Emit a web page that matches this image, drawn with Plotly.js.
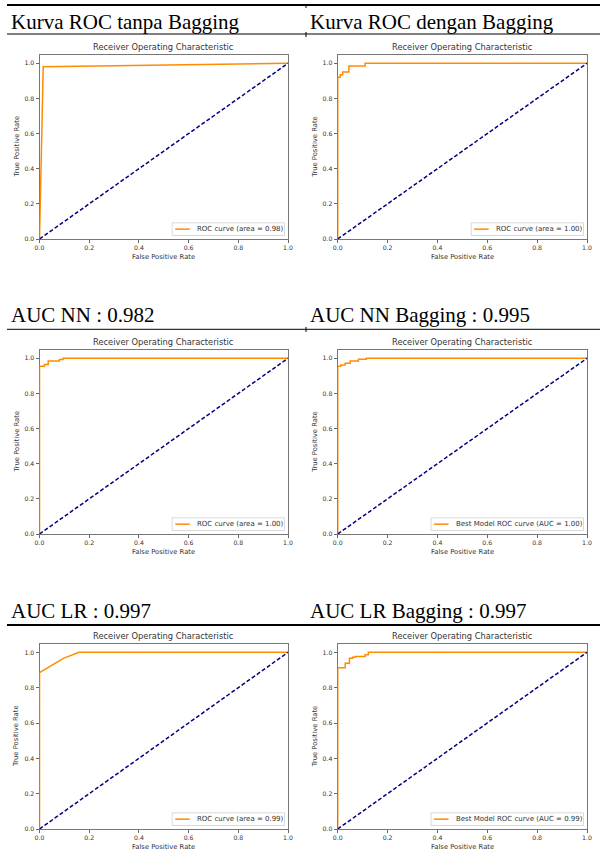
<!DOCTYPE html>
<html><head><meta charset="utf-8">
<script src="https://cdn.plot.ly/plotly-3.0.1.min.js"></script>
<style>html,body{margin:0;padding:0;background:#fff}#chart{width:600px;height:853px}</style>
</head><body><div id="chart"></div>
<script>
// ---------- data ----------
const headerTexts = ["Kurva ROC tanpa Bagging", "Kurva ROC dengan Bagging",
                     "AUC NN : 0.982", "AUC NN Bagging : 0.995",
                     "AUC LR : 0.997", "AUC LR Bagging : 0.997"];
const plotTitle = "Receiver Operating Characteristic";
const xTitle = "False Positive Rate";
const yTitle = "True Positive Rate";
const tickVals = [0, 0.2, 0.4, 0.6, 0.8, 1.0];
const tickText = ["0.0", "0.2", "0.4", "0.6", "0.8", "1.0"];
const diagX = [0, 1];
const diagY = [0, 1];

const fprNoBag = [0, 0.015, 1];
const tprNoBag = [0, 0.98, 1];
const fprBag = [0, 0, 0.01, 0.01, 0.02, 0.02, 0.045, 0.045, 0.11, 0.11, 1];
const tprBag = [0, 0.92, 0.92, 0.935, 0.935, 0.95, 0.95, 0.985, 0.985, 1, 1];
const fprNN = [0, 0, 0.02, 0.02, 0.035, 0.035, 0.08, 0.08, 0.095, 0.095, 1];
const tprNN = [0, 0.955, 0.955, 0.965, 0.965, 0.985, 0.985, 0.993, 0.993, 1, 1];
const fprNNBag = [0, 0, 0.012, 0.012, 0.03, 0.03, 0.05, 0.05, 0.083, 0.083, 0.115, 0.115, 1];
const tprNNBag = [0, 0.955, 0.955, 0.962, 0.962, 0.972, 0.972, 0.985, 0.985, 0.994, 0.994, 1, 1];
const fprLR = [0, 0, 0.096, 0.159, 1];
const tprLR = [0, 0.885, 0.966, 1, 1];
const fprLRBag = [0, 0, 0.03, 0.03, 0.047, 0.047, 0.06, 0.06, 0.07, 0.07, 0.11, 0.11, 0.123, 0.123, 1];
const tprLRBag = [0, 0.913, 0.913, 0.938, 0.938, 0.966, 0.966, 0.972, 0.972, 0.977, 0.977, 0.987, 0.987, 1, 1];
const legendNames = ["ROC curve (area = 0.98)", "ROC curve (area = 1.00)",
                     "ROC curve (area = 1.00)", "Best Model ROC curve (AUC = 1.00)",
                     "ROC curve (area = 0.99)", "Best Model ROC curve (AUC = 0.99)"];
const curves = [[fprNoBag, tprNoBag], [fprBag, tprBag], [fprNN, tprNN],
                [fprNNBag, tprNNBag], [fprLR, tprLR], [fprLRBag, tprLRBag]];

// ---------- geometry (pixels) ----------
const W = 600, H = 853;
const px = v => v / W;
const py = v => 1 - v / H;
const cols = [[39.5, 288], [337.7, 587]];
const rows = [{y0: 239, y1: 54.5, title: 47, xt: 256.7, head: 21.5, line: 34, lw: 1},
              {y0: 534, y1: 349.5, title: 341.7, xt: 551.7, head: 315, line: 329.3, lw: 1},
              {y0: 829, y1: 643.5, title: 636, xt: 846.7, head: 610.5, line: 625, lw: 2}];
const yTitleX = [16.7, 315];
const LEG_FONT = 7;
const cv = document.createElement("canvas").getContext("2d");
cv.font = LEG_FONT + "px 'DejaVu Sans'";

const traces = [];
const layout = {
  width: W, height: H, margin: {l: 0, r: 0, t: 0, b: 0},
  paper_bgcolor: "#fff", plot_bgcolor: "#fff",
  font: {family: "DejaVu Sans", color: "#333", size: 6},
  annotations: [], shapes: [], showlegend: false
};

// table lines
layout.shapes.push({type: "line", xref: "paper", yref: "paper", x0: px(7), x1: px(600), y0: py(5), y1: py(5), line: {color: "#000", width: 2}});
rows.forEach(r => {
  layout.shapes.push({type: "line", xref: "paper", yref: "paper", x0: px(7), x1: px(600), y0: py(r.line), y1: py(r.line), line: {color: "#000", width: r.lw}});
});
[[4, 8], [32, 37], [327, 332]].forEach(s => {
  layout.shapes.push({type: "line", xref: "paper", yref: "paper", x0: px(306), x1: px(306), y0: py(s[0]), y1: py(s[1]), line: {color: "#000", width: 1}});
});

for (let i = 0; i < 6; i++) {
  const r = rows[Math.floor(i / 2)];
  const c = cols[i % 2];
  const n = i + 1;
  const xa = n === 1 ? "xaxis" : "xaxis" + n;
  const ya = n === 1 ? "yaxis" : "yaxis" + n;
  const xr = n === 1 ? "x" : "x" + n;
  const yr = n === 1 ? "y" : "y" + n;
  const axCommon = {
    showgrid: false, zeroline: false, showline: true, mirror: true,
    linecolor: "#777", linewidth: 1, ticks: "outside", ticklen: 3,
    tickcolor: "#666", tickwidth: 1, tickvals: tickVals, ticktext: tickText,
    tickfont: {family: "DejaVu Sans", size: 6.2, color: "#333"},
    layer: "below traces", fixedrange: true
  };
  layout[xa] = Object.assign({}, axCommon, {domain: [px(c[0]), px(c[1])], range: [0, 1], anchor: yr});
  layout[ya] = Object.assign({}, axCommon, {domain: [py(r.y0), py(r.y1)], range: [0, 1.05], anchor: xr});

  traces.push({x: curves[i][0], y: curves[i][1], xaxis: xr, yaxis: yr, type: "scatter", mode: "lines",
               name: legendNames[i], line: {color: "darkorange", width: 1.5}, hoverinfo: "skip"});
  traces.push({x: diagX, y: diagY, xaxis: xr, yaxis: yr, type: "scatter", mode: "lines",
               line: {color: "navy", width: 1.5, dash: "4px,2.2px"}, hoverinfo: "skip"});

  // legend box (matplotlib style, lower right)
  const tw = cv.measureText(legendNames[i]).width;
  const lr = c[1] - 3.5, lb = r.y0 - 3.5, lt = lb - 12.7, ll = lr - (tw + 26);
  const lcy = (lt + lb) / 2;
  layout.shapes.push({type: "rect", xref: "paper", yref: "paper", x0: px(ll), x1: px(lr), y0: py(lb), y1: py(lt),
                      fillcolor: "rgba(255,255,255,0.85)", line: {color: "#d0d0d0", width: 0.8}});
  layout.shapes.push({type: "line", xref: "paper", yref: "paper", x0: px(ll + 3), x1: px(ll + 17.5), y0: py(lcy), y1: py(lcy),
                      line: {color: "darkorange", width: 1.5}});
  layout.annotations.push({text: legendNames[i], xref: "paper", yref: "paper", x: px(ll + 22.5), y: py(lcy),
    xanchor: "left", yanchor: "middle", showarrow: false, font: {family: "DejaVu Sans", size: LEG_FONT, color: "#333"}});

  const cx = (c[0] + c[1]) / 2;
  layout.annotations.push({text: plotTitle, xref: "paper", yref: "paper", x: px(cx), y: py(r.title),
    xanchor: "center", yanchor: "middle", showarrow: false, font: {family: "DejaVu Sans", size: 8.3, color: "#333"}});
  layout.annotations.push({text: xTitle, xref: "paper", yref: "paper", x: px(cx), y: py(r.xt),
    xanchor: "center", yanchor: "middle", showarrow: false, font: {family: "DejaVu Sans", size: 6.8, color: "#333"}});
  layout.annotations.push({text: yTitle, xref: "paper", yref: "paper", x: px(yTitleX[i % 2]), y: py((r.y0 + r.y1) / 2),
    xanchor: "center", yanchor: "middle", textangle: -90, showarrow: false, font: {family: "DejaVu Sans", size: 6.8, color: "#333"}});
  layout.annotations.push({text: headerTexts[i], xref: "paper", yref: "paper", x: px(i % 2 === 0 ? 8.5 : 307.5), y: py(r.head),
    xanchor: "left", yanchor: "middle", showarrow: false, font: {family: "Liberation Serif", size: 21, color: "#000"}});
}

Plotly.newPlot("chart", traces, layout, {staticPlot: true, displayModeBar: false});
</script>
</body></html>
